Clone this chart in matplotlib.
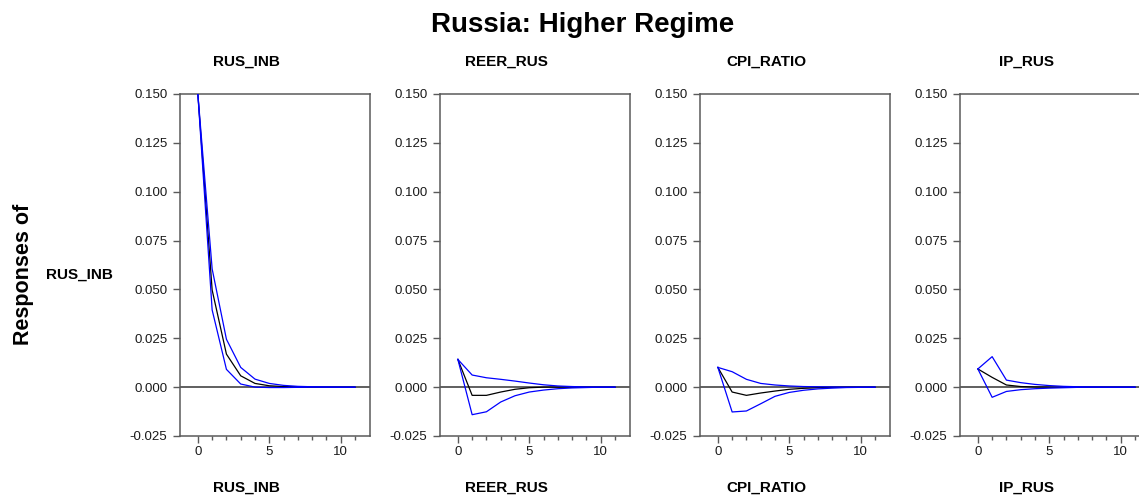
import matplotlib
matplotlib.use("Agg")
import matplotlib.pyplot as plt
from matplotlib.ticker import MultipleLocator, FixedLocator, FormatStrFormatter

plt.rcParams['font.family'] = ['Liberation Sans', 'DejaVu Sans']

# Horizon (periods after the shock)
periods = list(range(12))

# Variables: responding variable and shocked variables
response_var = "RUS_INB"
shock_vars = ["RUS_INB", "REER_RUS", "CPI_RATIO", "IP_RUS"]

# Impulse responses of RUS_INB (point estimate, lower and upper bands)
irf_rus_inb = [0.150, 0.0497, 0.0169, 0.0058, 0.0019, 0.0007, 0.0003, 0.0001, 0.0, 0.0, 0.0, 0.0]
lo_rus_inb = [0.150, 0.0395, 0.0091, 0.0016, 0.0000, -0.0002, -0.0002, -0.0001, 0.0, 0.0, 0.0, 0.0]
hi_rus_inb = [0.150, 0.0605, 0.0245, 0.0101, 0.0041, 0.0019, 0.0009, 0.0004, 0.0002, 0.0001, 0.0, 0.0]

irf_reer = [0.0142, -0.0042, -0.0042, -0.0025, -0.0011, -0.0003, 0.0, 0.0, 0.0, 0.0, 0.0, 0.0]
lo_reer = [0.0142, -0.0141, -0.0126, -0.0076, -0.0044, -0.0025, -0.0015, -0.0008, -0.0004, -0.0002, 0.0, 0.0]
hi_reer = [0.0142, 0.0062, 0.0048, 0.0040, 0.0031, 0.0021, 0.0012, 0.0006, 0.0003, 0.0001, 0.0, 0.0]

irf_cpi = [0.0101, -0.0025, -0.0042, -0.0030, -0.0020, -0.0011, -0.0006, -0.0003, -0.0001, 0.0, 0.0, 0.0]
lo_cpi = [0.0101, -0.0127, -0.0122, -0.0085, -0.0047, -0.0027, -0.0016, -0.0009, -0.0005, -0.0002, -0.0001, 0.0]
hi_cpi = [0.0101, 0.0079, 0.0040, 0.0019, 0.0011, 0.0006, 0.0003, 0.0002, 0.0001, 0.0, 0.0, 0.0]

irf_ip = [0.0093, 0.0050, 0.0011, 0.0003, 0.0001, 0.0, 0.0, 0.0, 0.0, 0.0, 0.0, 0.0]
lo_ip = [0.0093, -0.0052, -0.0022, -0.0013, -0.0008, -0.0005, -0.0003, -0.0001, 0.0, 0.0, 0.0, 0.0]
hi_ip = [0.0093, 0.0156, 0.0036, 0.0023, 0.0014, 0.0008, 0.0004, 0.0002, 0.0001, 0.0, 0.0, 0.0]

point_estimates = [irf_rus_inb, irf_reer, irf_cpi, irf_ip]
lower_bands = [lo_rus_inb, lo_reer, lo_cpi, lo_ip]
upper_bands = [hi_rus_inb, hi_reer, hi_cpi, hi_ip]

W, H = 1139, 497
fig = plt.figure(figsize=(W / 100, H / 100), dpi=100)

spine_col = "#5a5a5a"
ax_left0, ax_step, ax_w = 180, 260, 190
ax_top, ax_bot = 94, 436

for i, name in enumerate(shock_vars):
    left = ax_left0 + ax_step * i
    ax = fig.add_axes([left / W, 1 - ax_bot / H, ax_w / W, (ax_bot - ax_top) / H])
    ax.axhline(0, color="#444444", lw=1.2, zorder=1)
    ax.plot(periods, lower_bands[i], color="#0000ff", lw=0.9, zorder=3)
    ax.plot(periods, upper_bands[i], color="#0000ff", lw=0.9, zorder=3)
    ax.plot(periods, point_estimates[i], color="black", lw=0.9, zorder=2)
    ax.set_xlim(-1.25, 12.05)
    ax.set_ylim(-0.025, 0.150)
    ax.yaxis.set_major_locator(MultipleLocator(0.025))
    ax.yaxis.set_major_formatter(FormatStrFormatter("%.3f"))
    ax.xaxis.set_major_locator(FixedLocator([0, 5, 10]))
    ax.xaxis.set_minor_locator(FixedLocator([1, 2, 3, 4, 6, 7, 8, 9, 11]))
    for s in ax.spines.values():
        s.set_color(spine_col)
        s.set_linewidth(1.1)
    ax.tick_params(axis="both", which="major", direction="out", length=5,
                   width=1.0, color=spine_col, labelsize=9.5, labelcolor="#1a1a1a")
    ax.tick_params(axis="y", pad=4)
    ax.tick_params(axis="x", pad=2)
    ax.tick_params(axis="x", which="minor", direction="out", length=3,
                   width=1.0, color=spine_col)
    ax.tick_params(axis="y", which="minor", left=False)

    cx = (left + 66) / W
    fig.text(cx, 1 - 62 / H, name, ha="center", va="center",
             fontsize=11, fontweight="bold")
    fig.text(cx, 1 - 488 / H, name, ha="center", va="center",
             fontsize=11, fontweight="bold")

fig.text(583 / W, 1 - 25 / H, "Russia: Higher Regime", ha="center", va="center",
         fontsize=20, fontweight="bold")
fig.text(24 / W, 1 - 274 / H, "Responses of", ha="center", va="center",
         rotation=90, fontsize=15.5, fontweight="bold")
fig.text(79 / W, 1 - 275 / H, response_var, ha="center", va="center",
         fontsize=11, fontweight="bold")

fig.savefig("out.png", dpi=100)
